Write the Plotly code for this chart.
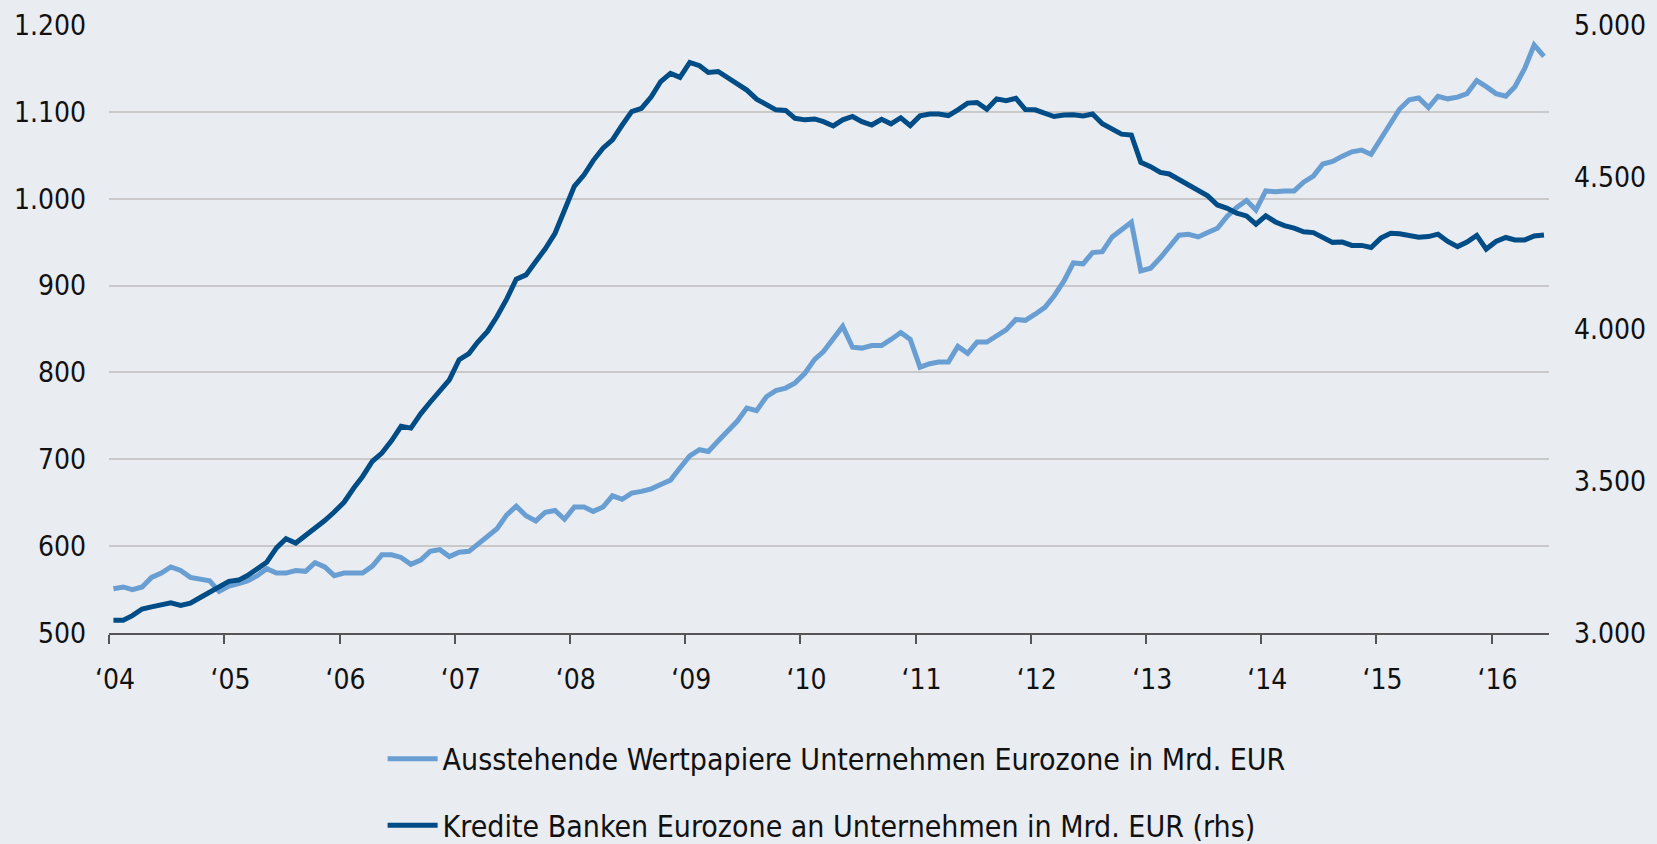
import pandas as pd
import plotly.graph_objects as go

# ---- data (monthly, Jan 2004 - Jun 2016) ----
months = pd.date_range("2004-01-01", periods=150, freq="MS") + pd.Timedelta(days=14)

wertpapiere = [
    551, 553, 550, 553, 564, 569, 576, 572, 564, 562, 560, 548,
    554, 557, 560, 566, 574, 569, 569, 572, 571, 581, 576, 566,
    569, 569, 569, 577, 590, 590, 587, 579, 584, 594, 596, 588,
    593, 594, 602, 610, 620, 636, 646, 635, 629, 639, 641, 631,
    645, 645, 640, 645, 658, 654, 661, 663, 666, 671, 676, 690,
    704, 711, 709, 721, 732, 744, 759, 756, 772, 779, 782, 788,
    799, 815, 824, 839, 853, 829, 828, 831, 831, 838, 846, 838,
    806, 810, 812, 812, 830, 822, 835, 835, 843, 849, 861, 860,
    867, 875, 888, 905, 926, 925, 938, 939, 956, 964, 973, 917,
    920, 932, 945, 958, 959, 956, 961, 966, 980, 990, 998, 987,
    1009, 1008, 1009, 1009, 1019, 1026, 1040, 1043, 1049, 1054, 1056, 1051,
    1069, 1087, 1103, 1114, 1116, 1105, 1118, 1115, 1117, 1121, 1136, 1129,
    1121, 1118, 1129, 1150, 1177, 1164,
]

kredite = [
    3042, 3042, 3057, 3079, 3086, 3091, 3099, 3091, 3098, 3116, 3134, 3152,
    3170, 3174, 3189, 3211, 3233, 3280, 3310, 3296, 3320, 3342, 3370, 3398,
    3430, 3477, 3515, 3565, 3592, 3633, 3680, 3674, 3721, 3759, 3795, 3833,
    3899, 3919, 3957, 3992, 4041, 4099, 4164, 4178, 4222, 4264, 4315, 4388,
    4469, 4507, 4554, 4595, 4622, 4671, 4715, 4726, 4764, 4814, 4841, 4828,
    4877, 4866, 4844, 4847, 4827, 4803, 4786, 4756, 4739, 4721, 4719, 4693,
    4688, 4691, 4682, 4668, 4688, 4699, 4682, 4671, 4690, 4675, 4695, 4669,
    4701, 4707, 4707, 4702, 4721, 4743, 4745, 4723, 4757, 4751, 4759, 4722,
    4721, 4710, 4699, 4704, 4705, 4701, 4707, 4675, 4656, 4641, 4638, 4548,
    4534, 4515, 4510, 4491, 4473, 4454, 4438, 4408, 4397, 4381, 4372, 4345,
    4372, 4352, 4340, 4332, 4320, 4317, 4302, 4285, 4286, 4275, 4275, 4268,
    4299, 4315, 4313, 4306, 4302, 4304, 4312, 4288, 4271, 4286, 4308, 4263,
    4288, 4301, 4293, 4293, 4306, 4309,
]

year_ticks = [f"{y}-01-01" for y in range(2004, 2017)]
year_labels = ["\u2018" + f"{y % 100:02d}" for y in range(2004, 2017)]
left_ticks = [500, 600, 700, 800, 900, 1000, 1100, 1200]
right_ticks = [3000, 3500, 4000, 4500, 5000]

name_light = "Ausstehende Wertpapiere Unternehmen Eurozone in Mrd. EUR"
name_dark = "Kredite Banken Eurozone an Unternehmen in Mrd. EUR (rhs)"

LIGHT = "#699ed2"
DARK = "#004c86"
BG = "#e9ecf1"
FONT = "DejaVu Sans Condensed, Liberation Sans Narrow, DejaVu Sans, sans-serif"

fig = go.Figure()
fig.add_trace(go.Scatter(x=months, y=wertpapiere, name=name_light, mode="lines",
                         line=dict(color=LIGHT, width=5), yaxis="y", legend="legend"))
fig.add_trace(go.Scatter(x=months, y=kredite, name=name_dark, mode="lines",
                         line=dict(color=DARK, width=5), yaxis="y2", legend="legend2"))

xrange = ["2004-01-01", "2016-07-01"]
legend_style = dict(orientation="v", x=0.19, xanchor="left", yanchor="top",
                    bgcolor="rgba(0,0,0,0)", font=dict(size=30, color="#111111"),
                    itemwidth=50)

fig.update_layout(
    width=1657, height=844,
    margin=dict(l=109, r=108, t=25, b=211, autoexpand=False),
    paper_bgcolor=BG, plot_bgcolor=BG,
    separators=",.",
    font=dict(family=FONT, size=28, color="#111111"),
    showlegend=True,
    legend=dict(y=-0.164, **legend_style),
    legend2=dict(y=-0.2735, **legend_style),
    xaxis=dict(type="date", range=xrange, tickmode="array", tickvals=year_ticks,
               ticktext=year_labels, ticks="outside", ticklen=9, tickwidth=1.5,
               tickcolor="#555555", showline=True, linecolor="#555555", linewidth=1.5,
               showgrid=False, zeroline=False, ticklabelstandoff=12, ticklabelshift=6),
    xaxis2=dict(type="date", range=xrange, overlaying="x", anchor="y", side="bottom",
                tickmode="array", tickvals=year_ticks, ticks="inside", ticklen=9,
                tickwidth=1.5, tickcolor="#555555", showticklabels=False,
                showline=False, showgrid=False, zeroline=False),
    yaxis=dict(range=[500, 1200], tickmode="array", tickvals=left_ticks, tickformat=",d",
               showgrid=True, gridcolor="#c9c9c9", gridwidth=1.5, zeroline=False,
               ticks="", showline=False, ticklabelstandoff=22),
    yaxis2=dict(range=[3000, 5000], tickmode="array", tickvals=right_ticks, tickformat=",d",
                overlaying="y", side="right", showgrid=False, zeroline=False,
                ticks="", showline=False, ticklabelstandoff=24),
)

fig.write_html("out.html", config={"displayModeBar": False},
               post_script="document.body.style.margin='0';")
